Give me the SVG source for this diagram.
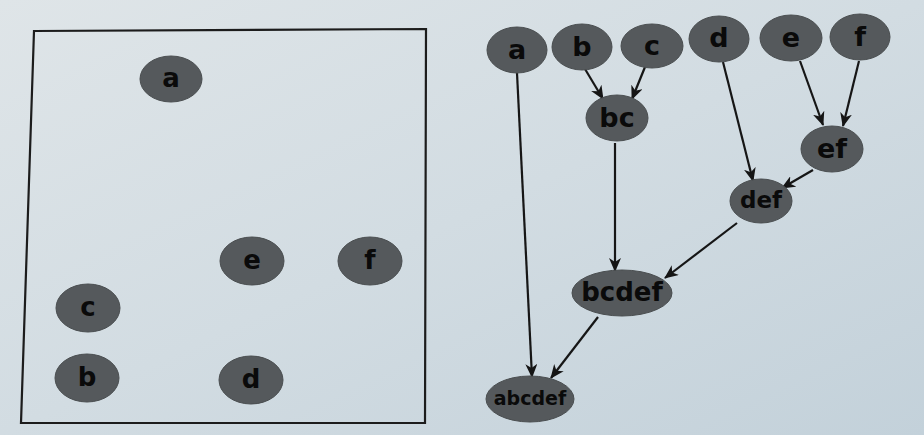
<svg xmlns="http://www.w3.org/2000/svg" width="924" height="435" viewBox="0 0 924 435">
<defs>
<linearGradient id="bg" x1="0" y1="0" x2="1" y2="1">
<stop offset="0" stop-color="#dfe5e8"/>
<stop offset="0.5" stop-color="#d2dce2"/>
<stop offset="1" stop-color="#c3d1da"/>
</linearGradient>
<marker id="arr" markerUnits="userSpaceOnUse" markerWidth="14" markerHeight="12" refX="13" refY="6" orient="auto">
<path d="M0,0 L14,6 L0,12 L4,6 z" fill="#151515"/>
</marker>
</defs>
<style>
.n ellipse{fill:#55595c;stroke:#4a4e50;stroke-width:1}
.n text{font-family:"DejaVu Sans",sans-serif;font-weight:bold;fill:#0a0a0a;text-anchor:middle;dominant-baseline:central}
.e line{stroke:#161616;stroke-width:2.2;marker-end:url(#arr)}
</style>
<rect width="924" height="435" fill="url(#bg)"/>
<polygon points="34,31 426,29 425,423 21,423" fill="none" stroke="#1c1c1c" stroke-width="2.2"/>
<g id="left-a" class="n"><ellipse cx="171" cy="79" rx="31" ry="23"/><text x="171" y="78" font-size="26">a</text></g>
<g id="left-e" class="n"><ellipse cx="252" cy="261" rx="32" ry="24"/><text x="252" y="260" font-size="26">e</text></g>
<g id="left-f" class="n"><ellipse cx="370" cy="261" rx="32" ry="24"/><text x="370" y="260" font-size="26">f</text></g>
<g id="left-c" class="n"><ellipse cx="88" cy="308" rx="32" ry="24"/><text x="88" y="307" font-size="26">c</text></g>
<g id="left-b" class="n"><ellipse cx="87" cy="378" rx="32" ry="24"/><text x="87" y="377" font-size="26">b</text></g>
<g id="left-d" class="n"><ellipse cx="251" cy="380" rx="32" ry="24"/><text x="251" y="379" font-size="26">d</text></g>
<g id="connectors" class="e">
<line x1="517" y1="73" x2="532" y2="377"/>
<line x1="585" y1="69" x2="603" y2="99"/>
<line x1="645" y1="67" x2="632" y2="99"/>
<line x1="723" y1="62" x2="753" y2="181"/>
<line x1="800" y1="61" x2="823" y2="125"/>
<line x1="859" y1="61" x2="843" y2="126"/>
<line x1="813" y1="170" x2="782" y2="188"/>
<line x1="615" y1="143" x2="615" y2="271"/>
<line x1="737" y1="223" x2="665" y2="278"/>
<line x1="598" y1="317" x2="551" y2="378"/>
</g>
<g id="a" class="n"><ellipse cx="517" cy="50" rx="30" ry="23"/><text x="517" y="49" font-size="27">a</text></g>
<g id="b" class="n"><ellipse cx="582" cy="47" rx="30" ry="23"/><text x="582" y="46" font-size="27">b</text></g>
<g id="c" class="n"><ellipse cx="652" cy="46" rx="31" ry="22"/><text x="652" y="45" font-size="27">c</text></g>
<g id="d" class="n"><ellipse cx="719" cy="39" rx="30" ry="23"/><text x="719" y="37" font-size="27">d</text></g>
<g id="e" class="n"><ellipse cx="791" cy="38" rx="31" ry="23"/><text x="791" y="37" font-size="27">e</text></g>
<g id="f" class="n"><ellipse cx="860" cy="37" rx="30" ry="23"/><text x="860" y="36" font-size="27">f</text></g>
<g id="bc" class="n"><ellipse cx="617" cy="118" rx="31" ry="23"/><text x="617" y="117" font-size="27">bc</text></g>
<g id="ef" class="n"><ellipse cx="832" cy="149" rx="31" ry="23"/><text x="832" y="148" font-size="27">ef</text></g>
<g id="def" class="n"><ellipse cx="761" cy="201" rx="31" ry="22"/><text x="761" y="200" font-size="23">def</text></g>
<g id="bcdef" class="n"><ellipse cx="622" cy="293" rx="50" ry="23"/><text x="622" y="292" font-size="26">bcdef</text></g>
<g id="abcdef" class="n"><ellipse cx="530" cy="399" rx="44" ry="23"/><text x="530" y="398" font-size="19">abcdef</text></g>
</svg>
